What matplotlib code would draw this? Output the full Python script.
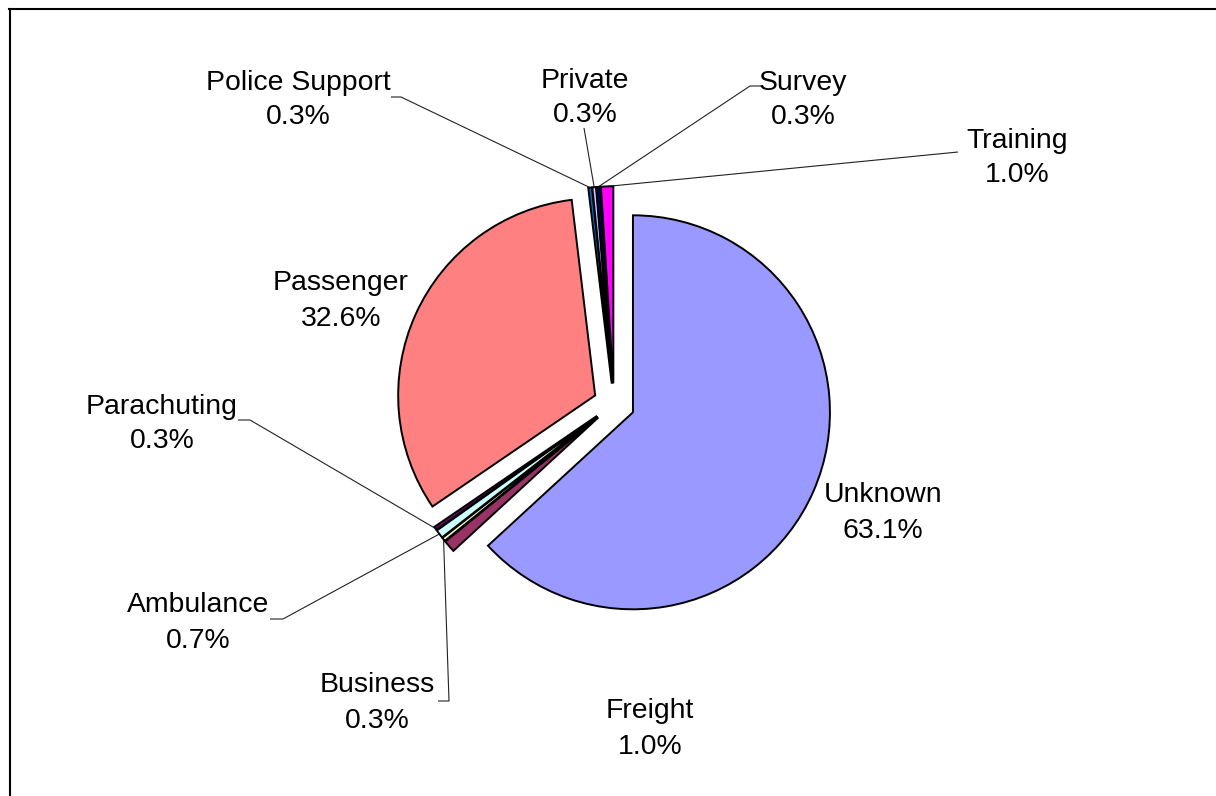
import matplotlib
matplotlib.use('Agg')
import matplotlib.pyplot as plt
import numpy as np
from matplotlib.lines import Line2D

# ---- data ----
categories = ['Unknown', 'Freight', 'Business', 'Ambulance', 'Parachuting',
              'Passenger', 'Police Support', 'Private', 'Survey', 'Training']
values = [63.1, 1.0, 0.3, 0.7, 0.3, 32.6, 0.3, 0.3, 0.3, 1.0]
colors = ['#9999FF', '#993366', '#FFFFCC', '#CCFFFF', '#660066',
          '#FF8080', '#0066CC', '#CCCCFF', '#000080', '#FF00FF']

# ---- layout (pixels, origin top-left) ----
W, H = 1216, 796
CX, CY, R = 614, 404, 197
label_pos = {
    'Unknown': (883, 510), 'Freight': (650, 726), 'Business': (377, 700),
    'Ambulance': (198, 620), 'Parachuting': (162, 421), 'Passenger': (341, 298),
    'Police Support': (298, 97), 'Private': (585, 95), 'Survey': (803, 97),
    'Training': (1017, 155),
}
leaders = {
    'Police Support': ((391, 97), (401, 97)),
    'Private': ((584, 128), (584, 128)),
    'Survey': ((761, 86), (750, 86)),
    'Training': ((958, 152), (948, 153)),
    'Parachuting': ((238, 420), (250, 420)),
    'Ambulance': ((270, 619), (283, 619)),
    'Business': ((438, 701), (449, 701)),
}

plt.rcParams['font.family'] = ['Liberation Sans', 'DejaVu Sans']

fig = plt.figure(figsize=(W / 100, H / 100), dpi=100)
ax = fig.add_axes([0, 0, 1, 1])
wedges, _ = ax.pie(values, colors=colors, startangle=90, counterclock=False,
                   explode=[0.105] * len(values), radius=1, center=(0, 0),
                   wedgeprops=dict(edgecolor='black', linewidth=1.4))
ax.set_xlim(-CX / R, (W - CX) / R)
ax.set_ylim(-(H - CY) / R, CY / R)
ax.axis('off')


def px(x, y):
    return ((x - CX) / R, (CY - y) / R)


total = sum(values)
for name, v, w in zip(categories, values, wedges):
    lx, ly = label_pos[name]
    x1, y1 = px(lx, ly - 17.5 + 10)
    x2, y2 = px(lx, ly + 17.5 + 10)
    ax.text(x1, y1, name, ha='center', va='baseline', fontsize=20.4)
    ax.text(x2, y2, f'{v:.1f}%', ha='center', va='baseline', fontsize=20.4)
    if name in leaders:
        (sx, sy), (ex, ey) = leaders[name]
        tm = np.deg2rad((w.theta1 + w.theta2) / 2)
        axp = w.center[0] + w.r * np.cos(tm)
        ayp = w.center[1] + w.r * np.sin(tm)
        p0 = px(sx, sy)
        p1 = px(ex, ey)
        ax.plot([p0[0], p1[0], axp], [p0[1], p1[1], ayp], color='#222222',
                lw=0.8, solid_capstyle='butt', zorder=0.5)

# outer frame (top and left edges)
fig.add_artist(Line2D([9 / W, 1.0], [1 - 9 / H, 1 - 9 / H], color='black', lw=1.5,
                      transform=fig.transFigure))
fig.add_artist(Line2D([10 / W, 10 / W], [1 - 9 / H, 0], color='black', lw=1.5,
                      transform=fig.transFigure))

fig.savefig('out.png', dpi=100, facecolor='white')
